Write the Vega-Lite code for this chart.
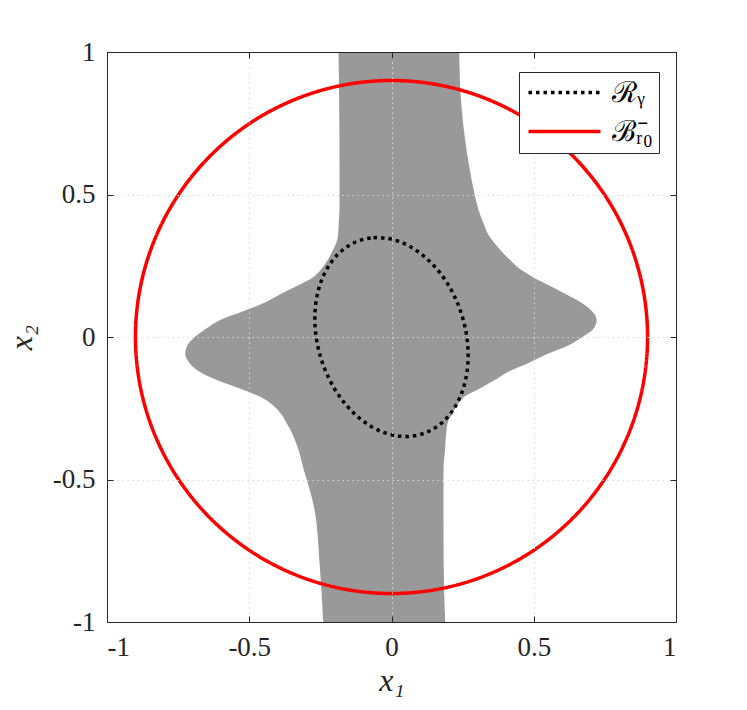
{
  "$schema": "https://vega.github.io/schema/vega-lite/v6.json",
  "width": 569,
  "height": 570,
  "autosize": {"type": "none"},
  "padding": {"left": 107, "top": 52, "right": 71, "bottom": 88},
  "background": "white",
  "config": {
    "view": {"stroke": null},
    "axis": {"domain": true, "domainColor": "#262626", "domainWidth": 1, "tickColor": "#262626", "tickWidth": 1, "labelFont": "Liberation Serif", "labelColor": "#262626", "titleFont": "Liberation Serif", "titleColor": "#262626", "titleFontWeight": "normal"}
  },
  "datasets": {
    "region": [
      {"y": 1.0, "xl": -0.1862, "xr": 0.2379},
      {"y": 0.8, "xl": -0.1838, "xr": 0.2467},
      {"y": 0.6, "xl": -0.1827, "xr": 0.2730},
      {"y": 0.5, "xl": -0.1827, "xr": 0.2923},
      {"y": 0.45, "xl": -0.1827, "xr": 0.3046},
      {"y": 0.4, "xl": -0.1855, "xr": 0.3230},
      {"y": 0.36, "xl": -0.1873, "xr": 0.3400},
      {"y": 0.33, "xl": -0.1943, "xr": 0.3620},
      {"y": 0.3, "xl": -0.2084, "xr": 0.3872},
      {"y": 0.27, "xl": -0.2242, "xr": 0.4171},
      {"y": 0.24, "xl": -0.2453, "xr": 0.4494},
      {"y": 0.21, "xl": -0.2751, "xr": 0.4979},
      {"y": 0.18, "xl": -0.3313, "xr": 0.5559},
      {"y": 0.15, "xl": -0.3911, "xr": 0.6138},
      {"y": 0.12, "xl": -0.4473, "xr": 0.6683},
      {"y": 0.09, "xl": -0.5211, "xr": 0.7052},
      {"y": 0.06, "xl": -0.6019, "xr": 0.7210},
      {"y": 0.03, "xl": -0.6511, "xr": 0.7105},
      {"y": 0.0, "xl": -0.6915, "xr": 0.6701},
      {"y": -0.03, "xl": -0.7178, "xr": 0.6209},
      {"y": -0.06, "xl": -0.7249, "xr": 0.5471},
      {"y": -0.09, "xl": -0.7108, "xr": 0.4838},
      {"y": -0.12, "xl": -0.6774, "xr": 0.4136},
      {"y": -0.15, "xl": -0.6160, "xr": 0.3644},
      {"y": -0.18, "xl": -0.5351, "xr": 0.3117},
      {"y": -0.21, "xl": -0.4613, "xr": 0.2554},
      {"y": -0.24, "xl": -0.4157, "xr": 0.2308},
      {"y": -0.27, "xl": -0.3876, "xr": 0.2133},
      {"y": -0.3, "xl": -0.3700, "xr": 0.1975},
      {"y": -0.33, "xl": -0.3531, "xr": 0.1933},
      {"y": -0.36, "xl": -0.3401, "xr": 0.1904},
      {"y": -0.4, "xl": -0.3254, "xr": 0.1880},
      {"y": -0.45, "xl": -0.3127, "xr": 0.1834},
      {"y": -0.5, "xl": -0.2980, "xr": 0.1827},
      {"y": -0.6, "xl": -0.2716, "xr": 0.1827},
      {"y": -0.8, "xl": -0.2523, "xr": 0.1834},
      {"y": -1.0, "xl": -0.2400, "xr": 0.1887}
    ],
    "curves": [
      {"set": "R", "i": 0, "x": -0.1077, "y": 0.3402},
      {"set": "R", "i": 1, "x": -0.0632, "y": 0.3486},
      {"set": "R", "i": 2, "x": -0.0167, "y": 0.3464},
      {"set": "R", "i": 3, "x": 0.0302, "y": 0.3337},
      {"set": "R", "i": 4, "x": 0.0762, "y": 0.3108},
      {"set": "R", "i": 5, "x": 0.1199, "y": 0.2785},
      {"set": "R", "i": 6, "x": 0.1600, "y": 0.2378},
      {"set": "R", "i": 7, "x": 0.1952, "y": 0.1898},
      {"set": "R", "i": 8, "x": 0.2245, "y": 0.1360},
      {"set": "R", "i": 9, "x": 0.2469, "y": 0.0782},
      {"set": "R", "i": 10, "x": 0.2619, "y": 0.0179},
      {"set": "R", "i": 11, "x": 0.2689, "y": -0.0429},
      {"set": "R", "i": 12, "x": 0.2677, "y": -0.1024},
      {"set": "R", "i": 13, "x": 0.2584, "y": -0.1588},
      {"set": "R", "i": 14, "x": 0.2412, "y": -0.2103},
      {"set": "R", "i": 15, "x": 0.2167, "y": -0.2555},
      {"set": "R", "i": 16, "x": 0.1856, "y": -0.2929},
      {"set": "R", "i": 17, "x": 0.1489, "y": -0.3214},
      {"set": "R", "i": 18, "x": 0.1077, "y": -0.3402},
      {"set": "R", "i": 19, "x": 0.0632, "y": -0.3486},
      {"set": "R", "i": 20, "x": 0.0167, "y": -0.3464},
      {"set": "R", "i": 21, "x": -0.0302, "y": -0.3337},
      {"set": "R", "i": 22, "x": -0.0762, "y": -0.3108},
      {"set": "R", "i": 23, "x": -0.1199, "y": -0.2785},
      {"set": "R", "i": 24, "x": -0.1600, "y": -0.2378},
      {"set": "R", "i": 25, "x": -0.1952, "y": -0.1898},
      {"set": "R", "i": 26, "x": -0.2245, "y": -0.1360},
      {"set": "R", "i": 27, "x": -0.2469, "y": -0.0782},
      {"set": "R", "i": 28, "x": -0.2619, "y": -0.0179},
      {"set": "R", "i": 29, "x": -0.2689, "y": 0.0429},
      {"set": "R", "i": 30, "x": -0.2677, "y": 0.1024},
      {"set": "R", "i": 31, "x": -0.2584, "y": 0.1588},
      {"set": "R", "i": 32, "x": -0.2412, "y": 0.2103},
      {"set": "R", "i": 33, "x": -0.2167, "y": 0.2555},
      {"set": "R", "i": 34, "x": -0.1856, "y": 0.2929},
      {"set": "R", "i": 35, "x": -0.1489, "y": 0.3214},
      {"set": "B", "i": 0, "x": 0.9, "y": 0.0},
      {"set": "B", "i": 1, "x": 0.8863, "y": 0.1563},
      {"set": "B", "i": 2, "x": 0.8457, "y": 0.3078},
      {"set": "B", "i": 3, "x": 0.7794, "y": 0.45},
      {"set": "B", "i": 4, "x": 0.6894, "y": 0.5785},
      {"set": "B", "i": 5, "x": 0.5785, "y": 0.6894},
      {"set": "B", "i": 6, "x": 0.45, "y": 0.7794},
      {"set": "B", "i": 7, "x": 0.3078, "y": 0.8457},
      {"set": "B", "i": 8, "x": 0.1563, "y": 0.8863},
      {"set": "B", "i": 9, "x": 0.0, "y": 0.9},
      {"set": "B", "i": 10, "x": -0.1563, "y": 0.8863},
      {"set": "B", "i": 11, "x": -0.3078, "y": 0.8457},
      {"set": "B", "i": 12, "x": -0.45, "y": 0.7794},
      {"set": "B", "i": 13, "x": -0.5785, "y": 0.6894},
      {"set": "B", "i": 14, "x": -0.6894, "y": 0.5785},
      {"set": "B", "i": 15, "x": -0.7794, "y": 0.45},
      {"set": "B", "i": 16, "x": -0.8457, "y": 0.3078},
      {"set": "B", "i": 17, "x": -0.8863, "y": 0.1563},
      {"set": "B", "i": 18, "x": -0.9, "y": 0.0},
      {"set": "B", "i": 19, "x": -0.8863, "y": -0.1563},
      {"set": "B", "i": 20, "x": -0.8457, "y": -0.3078},
      {"set": "B", "i": 21, "x": -0.7794, "y": -0.45},
      {"set": "B", "i": 22, "x": -0.6894, "y": -0.5785},
      {"set": "B", "i": 23, "x": -0.5785, "y": -0.6894},
      {"set": "B", "i": 24, "x": -0.45, "y": -0.7794},
      {"set": "B", "i": 25, "x": -0.3078, "y": -0.8457},
      {"set": "B", "i": 26, "x": -0.1563, "y": -0.8863},
      {"set": "B", "i": 27, "x": 0.0, "y": -0.9},
      {"set": "B", "i": 28, "x": 0.1563, "y": -0.8863},
      {"set": "B", "i": 29, "x": 0.3078, "y": -0.8457},
      {"set": "B", "i": 30, "x": 0.45, "y": -0.7794},
      {"set": "B", "i": 31, "x": 0.5785, "y": -0.6894},
      {"set": "B", "i": 32, "x": 0.6894, "y": -0.5785},
      {"set": "B", "i": 33, "x": 0.7794, "y": -0.45},
      {"set": "B", "i": 34, "x": 0.8457, "y": -0.3078},
      {"set": "B", "i": 35, "x": 0.8863, "y": -0.1563}
    ]
  },
  "layer": [
    {
      "data": {"name": "region"},
      "mark": {"type": "area", "orient": "horizontal", "interpolate": "monotone", "color": "#999999", "opacity": 1},
      "encoding": {
        "y": {"field": "y", "type": "quantitative", "scale": {"domain": [-1, 1], "nice": false, "zero": false},
          "axis": {"orient": "left", "values": [-1, -0.5, 0, 0.5, 1], "labelExpr": "toString(datum.value)", "tickSize": -6, "labelPadding": 18, "labelFontSize": 27, "grid": true, "gridColor": "#dadada", "gridDash": [1.5, 3.5], "gridWidth": 1, "gridOpacity": {"condition": {"test": "abs(datum.value) == 1", "value": 0}, "value": 1}, "title": "x₂", "titleFontSize": 32, "titleFontStyle": "italic", "titlePadding": 14, "zindex": 1}},
        "x": {"field": "xl", "type": "quantitative", "scale": {"domain": [-1, 1], "nice": false, "zero": false},
          "axis": {"orient": "bottom", "values": [-1, -0.5, 0, 0.5, 1], "labelExpr": "toString(datum.value)", "tickSize": -6, "labelPadding": 18, "labelFontSize": 27, "grid": true, "gridColor": "#dadada", "gridDash": [1.5, 3.5], "gridWidth": 1, "gridOpacity": {"condition": {"test": "abs(datum.value) == 1", "value": 0}, "value": 1}, "title": "x₁", "titleFontSize": 32, "titleFontStyle": "italic", "titlePadding": 5, "zindex": 1}},
        "x2": {"field": "xr"}
      }
    },
    {
      "data": {"name": "curves"},
      "mark": {"type": "line", "interpolate": "cardinal-closed", "strokeWidth": 3.5},
      "encoding": {
        "x": {"field": "x", "type": "quantitative", "scale": {"domain": [-1, 1], "nice": false, "zero": false},
          "axis": {"orient": "top", "values": [-1, -0.5, 0, 0.5, 1], "labels": false, "tickSize": -6, "grid": false, "title": null, "zindex": 1}},
        "y": {"field": "y", "type": "quantitative", "scale": {"domain": [-1, 1], "nice": false, "zero": false},
          "axis": {"orient": "right", "values": [-1, -0.5, 0, 0.5, 1], "labels": false, "tickSize": -6, "grid": false, "title": null, "zindex": 1}},
        "order": {"field": "i", "type": "quantitative"},
        "color": {"field": "set", "type": "nominal", "scale": {"domain": ["R", "B"], "range": ["#000000", "#ff0000"]},
          "legend": {"title": null, "orient": "none", "legendX": 412, "legendY": 20, "symbolType": "M-3,0H3", "symbolSize": 576, "symbolOffset": 25, "symbolStrokeWidth": 3.5, "labelFont": "Liberation Serif", "labelFontSize": 29, "labelColor": "#000000", "labelExpr": "datum.value == 'R' ? 'ℛᵧ' : 'ℬᵣ̄₀'", "fillColor": "#ffffff", "strokeColor": "#262626", "padding": 6, "rowPadding": 9, "labelOffset": 33, "zindex": 2}},
        "strokeDash": {"field": "set", "type": "nominal", "scale": {"domain": ["R", "B"], "range": [[3.5, 4], [1, 0]]},
          "legend": {"title": null, "orient": "none", "legendX": 412, "legendY": 20, "symbolType": "M-3,0H3", "symbolSize": 576, "symbolOffset": 25, "symbolStrokeWidth": 3.5, "labelFont": "Liberation Serif", "labelFontSize": 29, "labelColor": "#000000", "labelExpr": "datum.value == 'R' ? 'ℛᵧ' : 'ℬᵣ̄₀'", "fillColor": "#ffffff", "strokeColor": "#262626", "padding": 6, "rowPadding": 9, "labelOffset": 33, "zindex": 2}}
      }
    }
  ],
  "resolve": {"axis": {"x": "independent", "y": "independent"}}
}
